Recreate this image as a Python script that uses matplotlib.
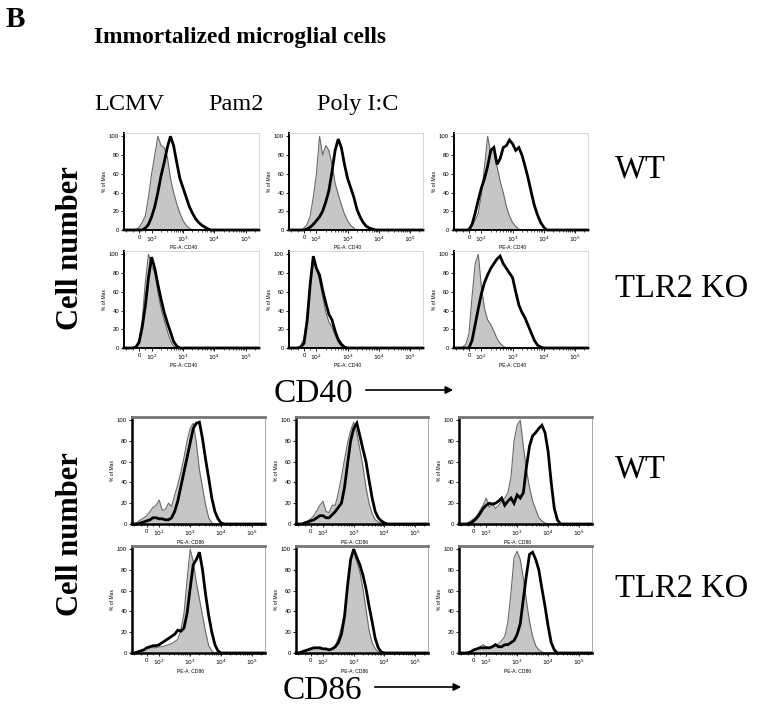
import matplotlib.pyplot as plt
from matplotlib.patches import FancyArrowPatch

W, H = 757, 707

# fluorescence channels (bin centres) shared by every histogram
channel = [-120, -100, -75, -50, -25, 0, 25, 50, 75, 100, 126, 158, 200, 251, 316,
           398, 501, 631, 794, 1000, 1259, 1585, 1995, 2512, 3162, 3981, 5012,
           6310, 7943, 10000, 12589, 15849, 19953, 25119, 79433, 262144]

stimuli = ['LCMV', 'Pam2', 'Poly I:C']
genotypes = ['WT', 'TLR2 KO']
markers = ['CD40', 'CD86']

# % of max, gray filled = unstimulated control, black = stimulated
cd40_wt_ctrl = [
    [0, 0, 0, 0, 0, 3, 8, 15, 35, 60, 80, 100, 90, 88, 78, 55, 40, 28, 18, 10, 5, 2, 0, 0, 0, 0, 0, 0, 0, 0, 0, 0, 0, 0, 0, 0],
    [0, 0, 0, 0, 0, 2, 6, 15, 35, 60, 100, 80, 90, 85, 70, 50, 38, 27, 17, 10, 5, 2, 0, 0, 0, 0, 0, 0, 0, 0, 0, 0, 0, 0, 0, 0],
    [0, 0, 0, 0, 0, 2, 5, 10, 18, 38, 68, 100, 82, 88, 68, 52, 40, 25, 15, 8, 4, 1, 0, 0, 0, 0, 0, 0, 0, 0, 0, 0, 0, 0, 0, 0],
]
cd40_wt_stim = [
    [0, 0, 0, 0, 0, 0, 0, 2, 6, 14, 25, 40, 58, 72, 88, 100, 90, 72, 55, 45, 35, 25, 18, 12, 8, 5, 3, 1, 0, 0, 0, 0, 0, 0, 0, 0],
    [0, 0, 0, 0, 0, 0, 1, 3, 6, 10, 14, 20, 30, 42, 62, 85, 97, 88, 70, 55, 45, 35, 22, 14, 8, 4, 2, 1, 0, 0, 0, 0, 0, 0, 0, 0],
    [0, 0, 0, 0, 0, 0, 6, 18, 32, 45, 55, 68, 85, 88, 70, 76, 88, 90, 96, 92, 85, 88, 80, 68, 55, 40, 26, 16, 8, 3, 0, 0, 0, 0, 0, 0],
]
cd40_ko_ctrl = [
    [0, 0, 0, 0, 2, 8, 30, 70, 100, 88, 80, 60, 42, 30, 18, 8, 2, 0, 0, 0, 0, 0, 0, 0, 0, 0, 0, 0, 0, 0, 0, 0, 0, 0, 0, 0],
    [0, 0, 0, 0, 3, 10, 35, 70, 93, 85, 72, 55, 38, 28, 22, 14, 6, 2, 0, 0, 0, 0, 0, 0, 0, 0, 0, 0, 0, 0, 0, 0, 0, 0, 0, 0],
    [0, 0, 0, 1, 4, 15, 55, 90, 100, 65, 42, 30, 25, 18, 10, 5, 2, 0, 0, 0, 0, 0, 0, 0, 0, 0, 0, 0, 0, 0, 0, 0, 0, 0, 0, 0],
]
cd40_ko_stim = [
    [0, 0, 0, 0, 1, 6, 22, 45, 75, 97, 85, 68, 52, 38, 27, 17, 7, 2, 0, 0, 0, 0, 0, 0, 0, 0, 0, 0, 0, 0, 0, 0, 0, 0, 0, 0],
    [0, 0, 0, 0, 1, 5, 28, 68, 98, 85, 78, 62, 48, 36, 30, 18, 9, 4, 1, 0, 0, 0, 0, 0, 0, 0, 0, 0, 0, 0, 0, 0, 0, 0, 0, 0],
    [0, 0, 0, 0, 0, 0, 8, 25, 42, 58, 70, 78, 85, 90, 95, 98, 90, 85, 80, 75, 60, 46, 38, 32, 24, 16, 8, 3, 1, 0, 0, 0, 0, 0, 0, 0],
]
cd86_wt_ctrl = [
    [0, 0, 2, 4, 6, 8, 12, 16, 18, 23, 13, 14, 20, 17, 28, 38, 50, 64, 80, 92, 97, 78, 52, 35, 18, 6, 1, 0, 0, 0, 0, 0, 0, 0, 0, 0],
    [0, 0, 0, 1, 3, 5, 8, 13, 18, 22, 12, 11, 18, 18, 30, 45, 62, 78, 90, 98, 88, 72, 55, 35, 20, 10, 4, 2, 1, 0, 0, 0, 0, 0, 0, 0],
    [0, 0, 0, 1, 3, 5, 8, 13, 18, 25, 16, 20, 15, 18, 22, 25, 30, 45, 80, 95, 100, 75, 52, 35, 22, 14, 6, 3, 1, 0, 0, 0, 0, 0, 0, 0],
]
cd86_wt_stim = [
    [0, 0, 0, 1, 2, 3, 4, 6, 6, 5, 5, 4, 4, 6, 12, 22, 36, 50, 64, 78, 92, 97, 98, 82, 62, 44, 25, 12, 5, 1, 0, 0, 0, 0, 0, 0],
    [0, 0, 0, 1, 2, 3, 4, 6, 8, 8, 6, 6, 9, 12, 16, 20, 35, 58, 80, 92, 97, 85, 72, 60, 42, 25, 12, 6, 3, 1, 0, 0, 0, 0, 0, 0],
    [0, 0, 0, 0, 1, 3, 6, 10, 15, 18, 20, 19, 20, 22, 25, 18, 22, 25, 20, 28, 25, 30, 55, 75, 85, 88, 92, 95, 88, 70, 40, 15, 4, 0, 0, 0],
]
cd86_ko_ctrl = [
    [0, 0, 1, 2, 3, 4, 5, 5, 5, 6, 6, 7, 8, 9, 11, 13, 22, 38, 70, 100, 88, 68, 52, 36, 20, 7, 2, 0, 0, 0, 0, 0, 0, 0, 0, 0],
    [0, 0, 1, 2, 3, 4, 5, 5, 4, 4, 3, 3, 4, 7, 14, 25, 38, 65, 92, 98, 88, 78, 62, 42, 22, 10, 4, 1, 0, 0, 0, 0, 0, 0, 0, 0],
    [0, 0, 0, 1, 2, 3, 4, 6, 8, 6, 5, 6, 7, 9, 12, 16, 30, 58, 92, 98, 90, 72, 50, 30, 16, 7, 3, 1, 0, 0, 0, 0, 0, 0, 0, 0],
]
cd86_ko_stim = [
    [0, 0, 1, 2, 3, 5, 6, 7, 7, 8, 10, 12, 14, 16, 18, 22, 21, 24, 38, 62, 85, 90, 97, 80, 56, 36, 20, 8, 2, 0, 0, 0, 0, 0, 0, 0],
    [0, 0, 1, 2, 3, 4, 5, 5, 5, 4, 4, 3, 4, 6, 10, 18, 35, 65, 90, 100, 92, 85, 75, 62, 45, 30, 14, 5, 1, 0, 0, 0, 0, 0, 0, 0],
    [0, 0, 0, 0, 1, 3, 4, 5, 5, 5, 5, 6, 8, 6, 6, 8, 8, 10, 12, 18, 28, 52, 75, 95, 97, 90, 80, 62, 45, 26, 10, 3, 0, 0, 0, 0],
]

xticks = [0, 100, 1000, 10000, 100000]
xticklabels = ['0', r'$10^2$', r'$10^3$', r'$10^4$', r'$10^5$']
xminor = [-100, -50, 50, 200, 300, 400, 500, 600, 700, 800, 900,
          2000, 3000, 4000, 5000, 6000, 7000, 8000, 9000,
          20000, 30000, 40000, 50000, 60000, 70000, 80000, 90000, 200000]
yticks = [0, 20, 40, 60, 80, 100]

fig = plt.figure(figsize=(W / 100, H / 100), dpi=100)
serif = 'Liberation Serif'
sans = 'Liberation Sans'


def px(x, y):
    return x / W, 1 - y / H


def panel(box, ctrl, stim, marker):
    l, t, r, b = box
    ax = fig.add_axes([l / W, 1 - b / H, (r - l) / W, (b - t) / H])
    ax.set_xscale('symlog', linthresh=100, linscale=0.36)
    ax.fill_between(channel, ctrl, color='#c6c6c6', lw=0)
    ax.plot(channel, ctrl, color='#6a6a6a', lw=0.8)
    ax.plot(channel, stim, color='black', lw=2.0, clip_on=False, solid_joinstyle='miter')
    ax.set_xlim(-120, 262144)
    ax.set_ylim(0, 103 if marker == 'CD86' else 103.5)
    ax.set_xticks(xticks)
    ax.set_xticklabels(xticklabels)
    ax.set_xticks(xminor, minor=True)
    ax.set_yticks(yticks)
    ax.tick_params(axis='both', which='major', labelsize=4.3, length=2, width=0.6, pad=1.5)
    ax.tick_params(axis='x', which='minor', length=1.2, width=0.5)
    for lab in ax.get_xticklabels() + ax.get_yticklabels():
        lab.set_fontfamily(sans)
    ax.set_ylabel('% of Max', fontsize=3.6, family=sans, labelpad=1.5)
    ax.set_xlabel('PE-A: ' + marker, fontsize=3.6, family=sans, labelpad=0)
    ax.xaxis.set_label_coords(0.44, -0.15)
    if marker == 'CD86':
        ax.spines['top'].set_color('#757575')
        ax.spines['top'].set_linewidth(2.0)
        ax.spines['right'].set_color('#9a9a9a')
        ax.spines['right'].set_linewidth(0.6)
        lw = 1.8
    else:
        for s in ('top', 'right'):
            ax.spines[s].set_color('#cfcfcf')
            ax.spines[s].set_linewidth(0.6)
        lw = 1.4
    for s in ('left', 'bottom'):
        ax.spines[s].set_linewidth(lw)
        ax.spines[s].set_color('black')
    return ax


cd40_cols = [(124, 259), (289, 423), (454, 588)]
cd40_rows = [(133, 230), (251, 348)]
cd86_cols = [(132, 265), (296, 428), (459, 592)]
cd86_rows = [(417, 524), (546, 653)]

cd40_data = [(cd40_wt_ctrl, cd40_wt_stim), (cd40_ko_ctrl, cd40_ko_stim)]
cd86_data = [(cd86_wt_ctrl, cd86_wt_stim), (cd86_ko_ctrl, cd86_ko_stim)]

for rows, cols, data, marker in [(cd40_rows, cd40_cols, cd40_data, 'CD40'),
                                 (cd86_rows, cd86_cols, cd86_data, 'CD86')]:
    for (t, b), (ctrl, stim) in zip(rows, data):
        for j, (l, r) in enumerate(cols):
            panel((l, t, r, b), ctrl[j], stim[j], marker)

# text labels
fig.text(*px(6, 27), 'B', family=serif, weight='bold', fontsize=21, va='baseline')
fig.text(*px(240, 43), 'Immortalized microglial cells', family=serif, weight='bold',
         fontsize=16.8, ha='center', va='baseline')
for name, x in zip(stimuli, [129, 236, 358]):
    fig.text(*px(x, 110), name, family=serif, fontsize=17.5, ha='center', va='baseline')
for y, name in zip([177, 297, 477, 597], genotypes * 2):
    fig.text(*px(615, y), name, family=serif, fontsize=23.5, ha='left', va='baseline')
for y in [248, 534]:
    fig.text(*px(71, y), 'Cell number', family=serif, weight='bold', fontsize=22,
             rotation=90, ha='center', va='center')

for name, x, y, x0, x1 in [('CD40', 313, 402, 363, 456), ('CD86', 322, 699, 372, 464)]:
    fig.text(*px(x, y), name, family=serif, fontsize=24, ha='center', va='baseline')
    fig.add_artist(FancyArrowPatch(px(x0, y - 12), px(x1, y - 12), transform=fig.transFigure,
                                   arrowstyle='-|>', mutation_scale=11, lw=1.2, color='black'))

plt.savefig('out.png', dpi=100)
